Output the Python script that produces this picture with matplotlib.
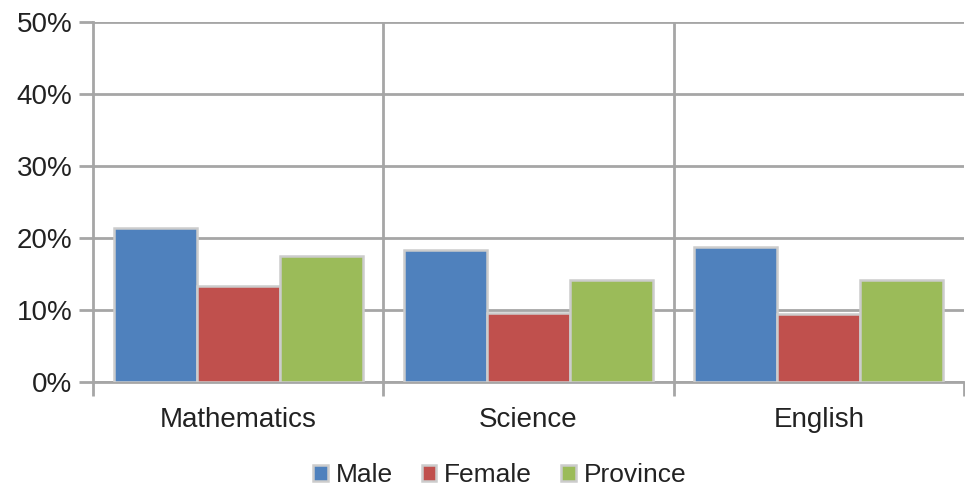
import matplotlib
matplotlib.use("Agg")
import matplotlib.pyplot as plt
import numpy as np
from matplotlib.ticker import FuncFormatter

categories = ["Mathematics", "Science", "English"]
series_names = ["Male", "Female", "Province"]
male = [21.4, 18.4, 18.8]
female = [13.3, 9.6, 9.5]
province = [17.5, 14.2, 14.2]
colors = ["#4F81BD", "#C0504D", "#9BBB59"]

plt.rcParams['font.family'] = ['Liberation Sans', 'DejaVu Sans']

fig = plt.figure(figsize=(9.65, 4.93), dpi=100)
ax = fig.add_axes([0.0964, 0.225, 0.9026, 0.730])

x = np.arange(len(categories))
w = 0.286
for i, (vals, name) in enumerate(zip([male, female, province], series_names)):
    ax.bar(x + (i - 1) * w, vals, width=w, color=colors[i], edgecolor="#cccccc",
           linewidth=1.8, label=name, zorder=3)

ax.set_xlim(-0.5, len(categories) - 0.5)
ax.set_ylim(0, 50)
ax.set_yticks(np.arange(0, 51, 10))
ax.yaxis.set_major_formatter(FuncFormatter(lambda v, p: f"{int(v)}%"))
ax.grid(axis="y", color="#a6a6a6", linewidth=2, zorder=0)

# category separators
ax.set_xticks(x)
ax.set_xticklabels(categories)
ax.set_xticks(np.arange(-0.5, len(categories)), minor=True)
for b in np.arange(0.5, len(categories) - 0.5):
    ax.axvline(b, color="#a6a6a6", linewidth=2, zorder=0)

for s in ["top", "right"]:
    ax.spines[s].set_visible(False)
ax.spines["left"].set_color("#a6a6a6")
ax.spines["left"].set_linewidth(2)
ax.spines["bottom"].set_color("#a6a6a6")
ax.spines["bottom"].set_linewidth(2)

ax.tick_params(axis="y", length=10, width=2, color="#a6a6a6", labelsize=20, pad=5, labelcolor="#222222")
ax.tick_params(axis="x", which="major", length=0, labelsize=20, pad=18, labelcolor="#222222")
ax.tick_params(axis="x", which="minor", length=10, width=2, color="#a6a6a6")

leg = ax.legend(loc="center", bbox_to_anchor=(0.467, -0.258), ncol=3, frameon=False,
                fontsize=19, handlelength=0.55, handleheight=0.55, handletextpad=0.3,
                columnspacing=1.1, borderpad=0)
for t in leg.get_texts():
    t.set_color("#222222")

fig.savefig("out.png", dpi=100)
